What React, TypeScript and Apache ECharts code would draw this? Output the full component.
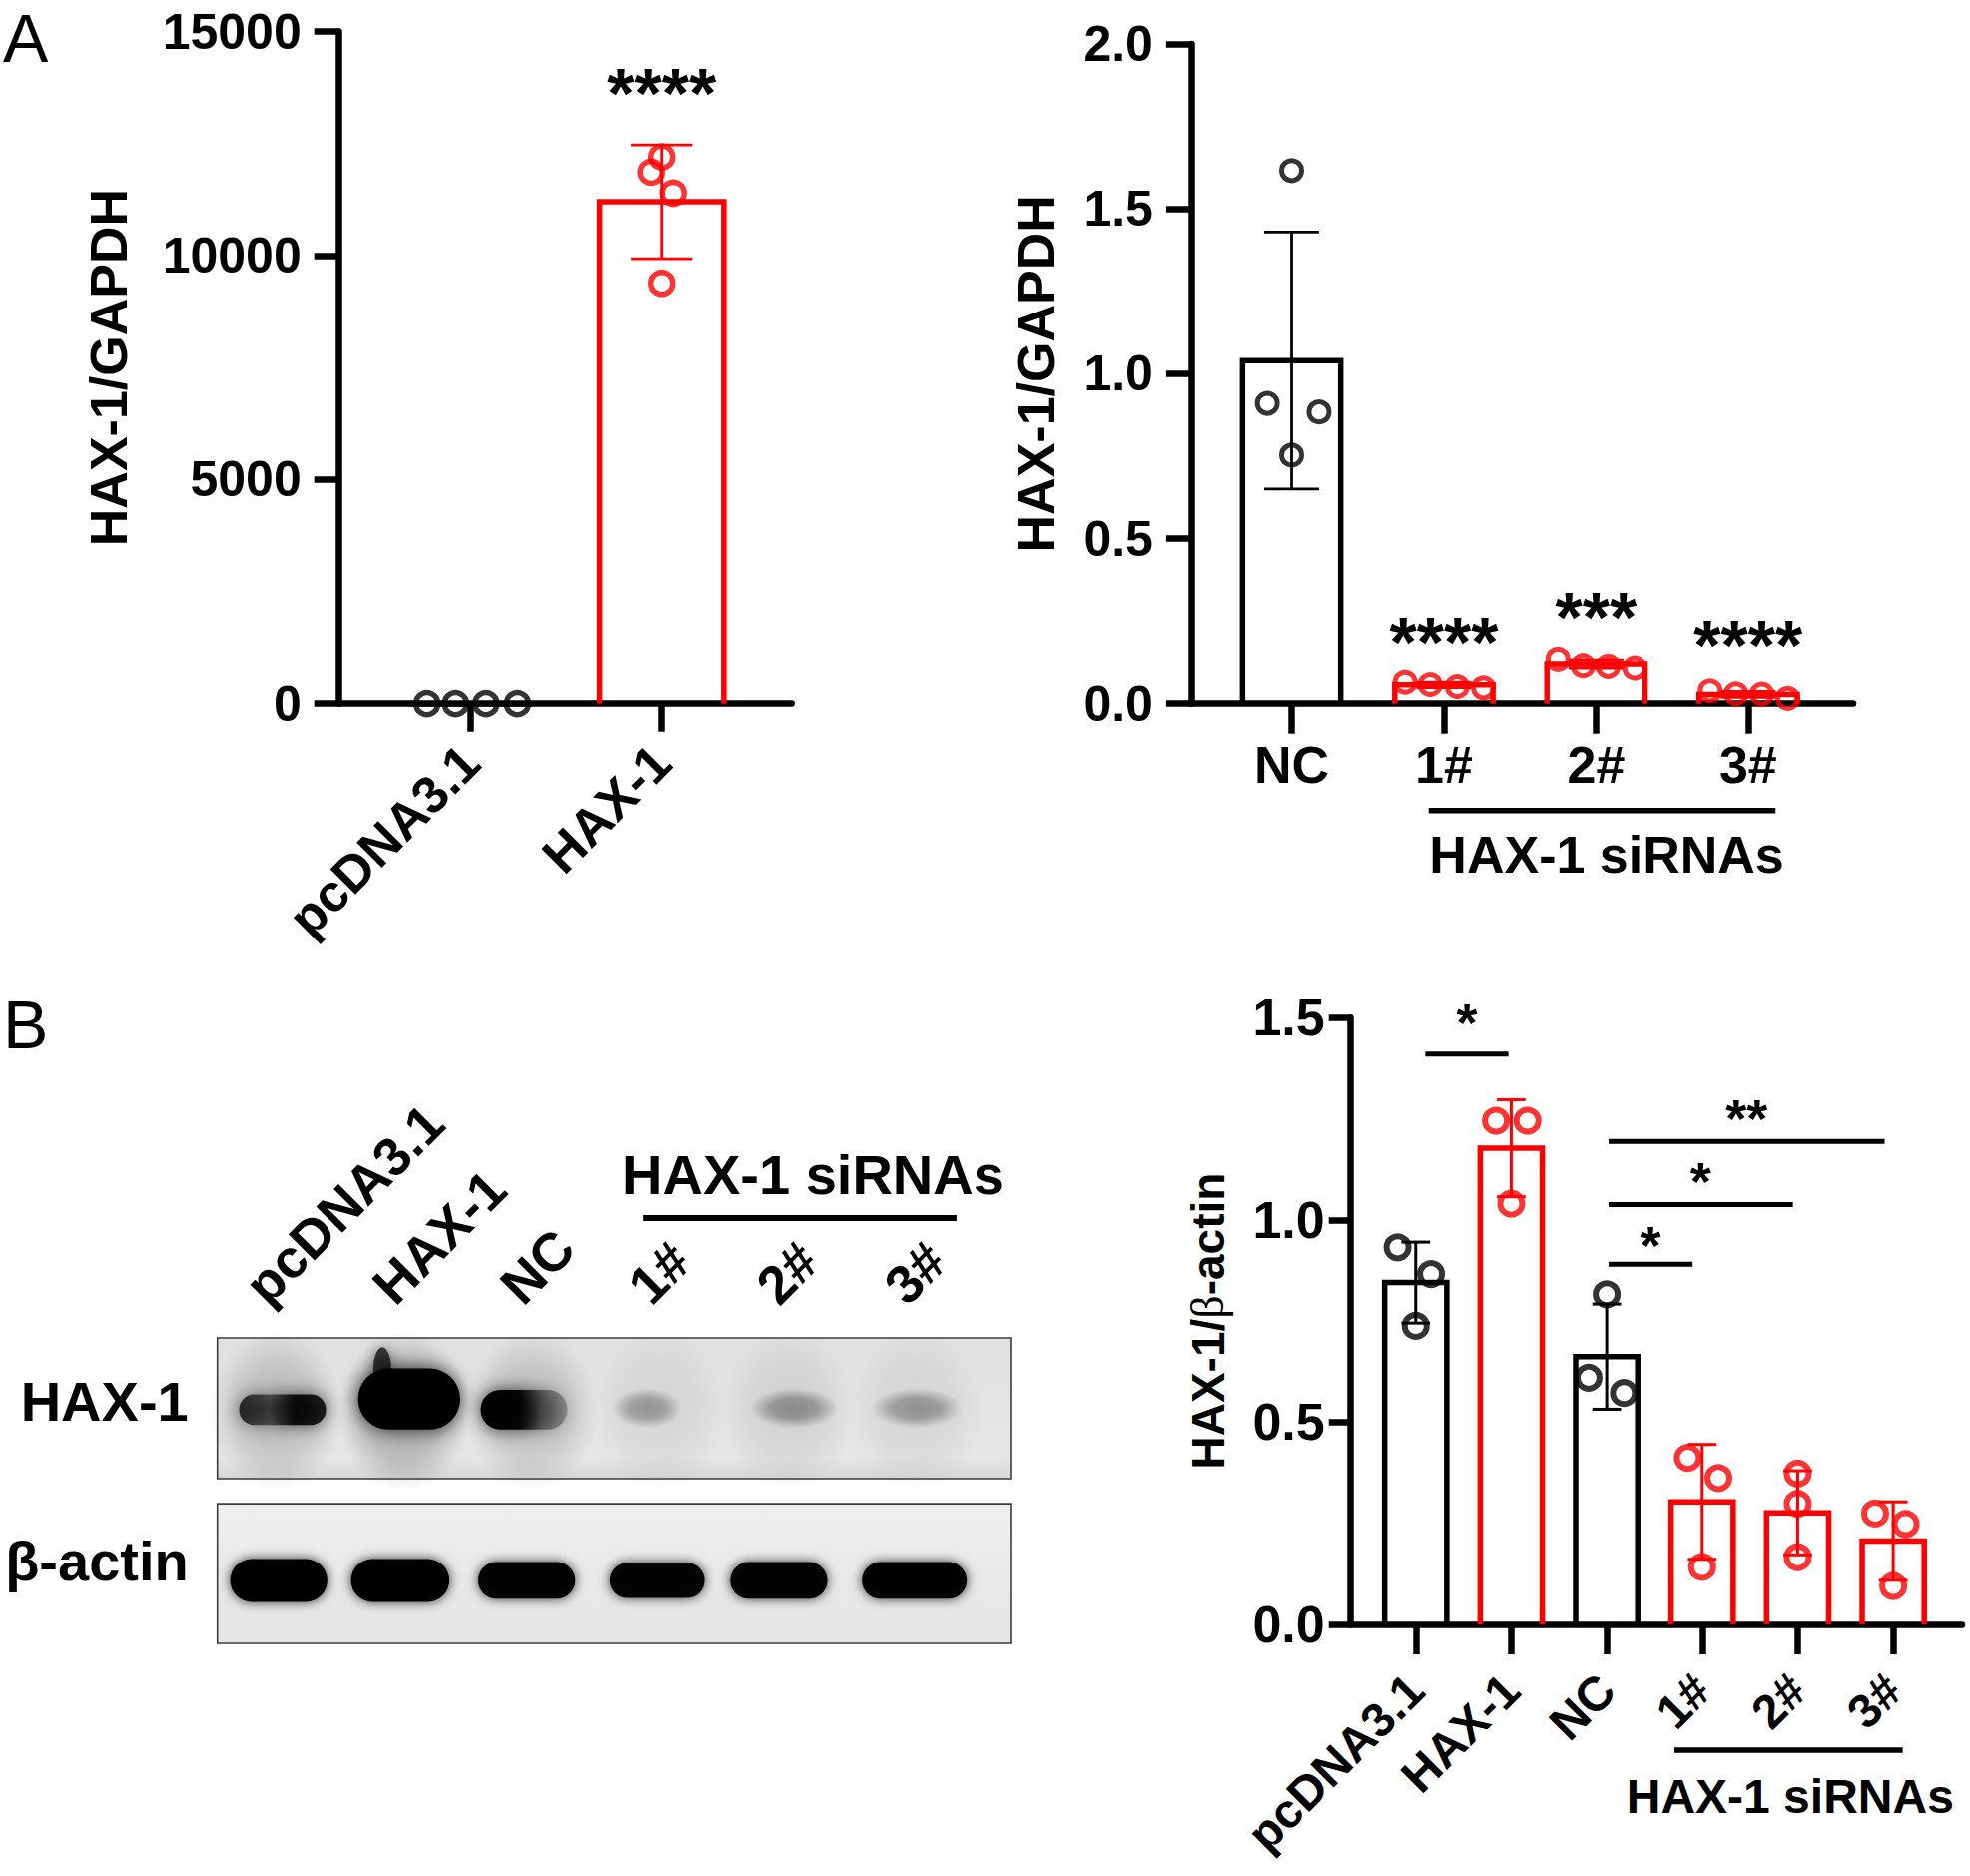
import React, { useEffect, useRef } from 'react';
import * as echarts from 'echarts';

// ================= DATA =================
// Panel A, left chart (qPCR, overexpression)
const a1Categories = ['pcDNA3.1', 'HAX-1'];
const a1YTicks = [0, 5000, 10000, 15000];
const a1Means = [1, 11200];
const a1SD = [20, 1270];
const a1Points = [
  [1, 1, 1, 1],
  [12200, 11860, 11390, 9380],
];
const a1Jitter = [
  [-0.23, -0.08, 0.08, 0.245],
  [0.0, -0.055, 0.06, 0.0],
];
const a1Stars = [{ cat: 1, y: 13770, text: '****' }];

// Panel A, right chart (qPCR, knock-down)
const a2Categories = ['NC', '1#', '2#', '3#'];
const a2YTicks = [0, 0.5, 1.0, 1.5, 2.0];
const a2Means = [1.04, 0.057, 0.12, 0.028];
const a2SD = [0.39, 0.008, 0.012, 0.009];
const a2Points = [
  [1.616, 0.91, 0.884, 0.753],
  [0.065, 0.058, 0.052, 0.048],
  [0.134, 0.115, 0.113, 0.108],
  [0.039, 0.03, 0.029, 0.016],
];
const a2Jitter = [
  [0.0, -0.16, 0.18, 0.0],
  [-0.255, -0.09, 0.088, 0.26],
  [-0.25, -0.085, 0.08, 0.255],
  [-0.25, -0.08, 0.09, 0.26],
];
const a2Stars = [
  { cat: 1, y: 0.206, text: '****' },
  { cat: 2, y: 0.282, text: '***' },
  { cat: 3, y: 0.196, text: '****' },
];
const a2Group = { from: 0.9, to: 3.18, mid: 2.07, text: 'HAX-1 siRNAs' };

// Panel B, chart (western blot quantification)
const bCategories = ['pcDNA3.1', 'HAX-1', 'NC', '1#', '2#', '3#'];
const bYTicks = [0, 0.5, 1.0, 1.5];
const bMeans = [0.845, 1.177, 0.662, 0.303, 0.276, 0.206];
const bSD = [0.1, 0.12, 0.13, 0.142, 0.104, 0.097];
const bPoints = [
  [0.932, 0.866, 0.738],
  [1.245, 1.245, 1.04],
  [0.816, 0.61, 0.572],
  [0.412, 0.362, 0.142],
  [0.373, 0.298, 0.166],
  [0.274, 0.248, 0.095],
];
const bJitter = [
  [-0.19, 0.16, 0],
  [-0.16, 0.17, 0],
  [0, -0.19, 0.18],
  [-0.15, 0.17, 0],
  [0, 0, 0],
  [-0.19, 0.13, 0],
];
const bBrackets = [
  { from: 0.1, to: 0.97, y: 1.41, starY: 1.502, text: '*' },
  { from: 2.02, to: 4.91, y: 1.194, starY: 1.264, text: '**' },
  { from: 2.02, to: 3.95, y: 1.038, starY: 1.11, text: '*' },
  { from: 2.02, to: 2.9, y: 0.89, starY: 0.952, text: '*' },
];
const bGroup = { from: 2.71, to: 5.1, mid: 3.92, text: 'HAX-1 siRNAs' };

// Western blot
const blotLanes = ['pcDNA3.1', 'HAX-1', 'NC', '1#', '2#', '3#'];
const blotRows = ['HAX-1', 'β-actin'];
const blotHax1Intensity = [0.9, 1.0, 1.0, 0.3, 0.34, 0.32];
const blotActinIntensity = [1.0, 1.0, 0.97, 0.96, 0.97, 0.98];
const blotGroup = { from: 2.87, to: 5.32, mid: 4.2, text: 'HAX-1 siRNAs' };

// ================= STYLE =================
const FONT = '"Liberation Sans", Arial, Helvetica, sans-serif';
const RED = '#ff0000';
const BLACK = '#000000';
const AXIS_W = 6.5;
const STAR_DY = 0.1;
const a1Colors = [BLACK, RED];
const a2Colors = [BLACK, RED, RED, RED];
const bColors = [BLACK, RED, BLACK, RED, RED, RED];

const BLOT_X = [-0.46, 5.75];
const BLOT_PANELS = [
  [0, 0.461],
  [0.543, 1],
];
const haxShape = [
  { dx: 0.05, cy: 0.235, w: 0.68, h: 0.1, stops: [[0, 0.85], [0.35, 0.55], [0.65, 1], [1, 0.9]] },
  { dx: 0.04, cy: 0.2, w: 0.8, h: 0.2, stops: [[0, 1], [1, 1]] },
  { dx: -0.06, cy: 0.235, w: 0.68, h: 0.13, stops: [[0, 1], [0.45, 0.95], [0.7, 0.45], [1, 0.25]] },
  { dx: -0.1, cy: 0.23, w: 0.55, h: 0.1, stops: [[0, 1], [1, 1]] },
  { dx: 0.05, cy: 0.23, w: 0.7, h: 0.1, stops: [[0, 1], [1, 1]] },
  { dx: 0.01, cy: 0.23, w: 0.72, h: 0.1, stops: [[0, 1], [1, 1]] },
];
const hazeAlpha = [0.2, 0.3, 0.18, 0.07, 0.09, 0.07];
const actinShape = [
  { dx: 0.02, w: 0.76, h: 0.14 },
  { dx: -0.03, w: 0.77, h: 0.14 },
  { dx: -0.04, w: 0.76, h: 0.12 },
  { dx: -0.02, w: 0.74, h: 0.115 },
  { dx: -0.07, w: 0.76, h: 0.12 },
  { dx: -0.01, w: 0.82, h: 0.12 },
];

// ================= BUILDERS =================
function xAxisCfg(grid: number, cats: string[], min: number, max: number, o: any) {
  const vals = cats.map((_, i) => i);
  return {
    type: 'value',
    gridIndex: grid,
    min,
    max,
    axisLine: { show: true, onZero: false, lineStyle: { color: BLACK, width: AXIS_W } },
    axisTick: { show: true, customValues: vals, length: o.tickLen, lineStyle: { color: BLACK, width: AXIS_W } },
    axisLabel: {
      show: true,
      customValues: vals,
      formatter: (v: number) => cats[Math.round(v)] ?? '',
      rotate: o.rotate,
      margin: o.margin,
      fontSize: o.fontSize,
      fontWeight: 'bold',
      fontFamily: FONT,
      color: BLACK,
    },
    splitLine: { show: false },
  };
}

function yAxisCfg(grid: number, ticks: number[], fmt: (v: number) => string, o: any) {
  return {
    type: 'value',
    gridIndex: grid,
    min: ticks[0],
    max: ticks[ticks.length - 1],
    interval: ticks[1] - ticks[0],
    axisLine: { show: true, onZero: false, lineStyle: { color: BLACK, width: AXIS_W } },
    axisTick: { show: true, length: o.tickLen, lineStyle: { color: BLACK, width: AXIS_W } },
    axisLabel: { formatter: fmt, margin: o.margin, fontSize: o.fontSize, fontWeight: 'bold', fontFamily: FONT, color: BLACK },
    splitLine: { show: false },
    name: o.name,
    nameLocation: 'middle',
    nameGap: o.nameGap,
    nameRotate: 90,
    nameTextStyle: { fontSize: o.nameSize, fontWeight: 'bold', fontFamily: FONT, color: BLACK, rich: o.rich },
  };
}

function barsSeries(grid: number, means: number[], sds: number[], colors: string[], o: any) {
  return {
    type: 'custom',
    xAxisIndex: grid,
    yAxisIndex: grid,
    clip: false,
    silent: true,
    z: 3,
    data: means.map((m, i) => [i, m, sds[i]]),
    renderItem: (params: any, api: any) => {
      const x = api.value(0) as number;
      const m = api.value(1) as number;
      const sd = api.value(2) as number;
      const c = colors[params.dataIndex];
      const l = api.coord([x - o.barWidth / 2, m]);
      const r = api.coord([x + o.barWidth / 2, 0]);
      const top = api.coord([x, m + sd]);
      const bot = api.coord([x, Math.max(0, m - sd)]);
      const cl = api.coord([x - o.cap / 2, 0])[0];
      const cr = api.coord([x + o.cap / 2, 0])[0];
      const es = { stroke: c, lineWidth: o.errLine };
      return {
        type: 'group',
        children: [
          {
            type: 'polyline',
            shape: { points: [[l[0], r[1]], [l[0], l[1]], [r[0], l[1]], [r[0], r[1]]] },
            style: { stroke: c, lineWidth: o.barLine, fill: null, lineJoin: 'miter' },
          },
          { type: 'line', shape: { x1: top[0], y1: top[1], x2: bot[0], y2: bot[1] }, style: es },
          { type: 'line', shape: { x1: cl, y1: top[1], x2: cr, y2: top[1] }, style: es },
          { type: 'line', shape: { x1: cl, y1: bot[1], x2: cr, y2: bot[1] }, style: es },
        ],
      };
    },
  };
}

function pointsSeries(grid: number, pts: number[][], jit: number[][], colors: string[], o: any) {
  const data: any[] = [];
  pts.forEach((arr, i) =>
    arr.forEach((v, j) =>
      data.push({ value: [i + jit[i][j], v], itemStyle: { color: 'rgba(0,0,0,0)', borderColor: colors[i], borderWidth: o.border } })
    )
  );
  return {
    type: 'scatter',
    xAxisIndex: grid,
    yAxisIndex: grid,
    symbol: 'circle',
    symbolSize: o.size,
    silent: true,
    z: 4,
    data,
  };
}

function starsSeries(grid: number, stars: any[], fontSize: number) {
  return {
    type: 'custom',
    xAxisIndex: grid,
    yAxisIndex: grid,
    clip: false,
    silent: true,
    z: 5,
    data: stars.map((s) => [s.cat, s.y]),
    renderItem: (params: any, api: any) => {
      const p = api.coord([api.value(0), api.value(1)]);
      return {
        type: 'text',
        x: p[0],
        y: p[1] + fontSize * STAR_DY,
        style: { text: stars[params.dataIndex].text, fontSize, fontWeight: 'bold', fontFamily: FONT, fill: BLACK, align: 'center', verticalAlign: 'middle' },
      };
    },
  };
}

function bracketsSeries(grid: number, br: any[], fontSize: number, lineWidth: number) {
  return {
    type: 'custom',
    xAxisIndex: grid,
    yAxisIndex: grid,
    clip: false,
    silent: true,
    z: 5,
    data: br.map((b) => [(b.from + b.to) / 2, b.y]),
    renderItem: (params: any, api: any) => {
      const b = br[params.dataIndex];
      const a = api.coord([b.from, b.y]);
      const e = api.coord([b.to, b.y]);
      const s = api.coord([(b.from + b.to) / 2, b.starY]);
      return {
        type: 'group',
        children: [
          { type: 'line', shape: { x1: a[0], y1: a[1], x2: e[0], y2: e[1] }, style: { stroke: BLACK, lineWidth } },
          {
            type: 'text',
            x: s[0],
            y: s[1] + fontSize * STAR_DY,
            style: { text: b.text, fontSize, fontWeight: 'bold', fontFamily: FONT, fill: BLACK, align: 'center', verticalAlign: 'middle' },
          },
        ],
      };
    },
  };
}

function groupSeries(grid: number, g: any, o: any) {
  return {
    type: 'custom',
    xAxisIndex: grid,
    yAxisIndex: grid,
    clip: false,
    silent: true,
    z: 5,
    data: [[g.mid, 0]],
    renderItem: (_p: any, api: any) => {
      const a = api.coord([g.from, 0]);
      const b = api.coord([g.to, 0]);
      const m = api.coord([g.mid, 0]);
      return {
        type: 'group',
        children: [
          { type: 'line', shape: { x1: a[0], y1: a[1] + o.lineDy, x2: b[0], y2: b[1] + o.lineDy }, style: { stroke: BLACK, lineWidth: o.lineWidth } },
          {
            type: 'text',
            x: m[0],
            y: m[1] + o.textDy,
            style: { text: g.text, fontSize: o.fontSize, fontWeight: 'bold', fontFamily: FONT, fill: BLACK, align: 'center', verticalAlign: 'middle' },
          },
        ],
      };
    },
  };
}

function alphaStops(stops: number[][], k: number) {
  return stops.map(([o, a]) => ({ offset: o, color: `rgba(0,0,0,${Math.min(1, a * k)})` }));
}

function blotSeries(grid: number) {
  return {
    type: 'custom',
    xAxisIndex: grid,
    yAxisIndex: grid,
    clip: false,
    silent: true,
    z: 2,
    data: blotLanes.map((_, i) => [i, 0.5]),
    renderItem: (params: any, api: any) => {
      const i = params.dataIndex;
      const lane = api.value(0) as number;
      const sz = api.size([1, 1]);
      const ux = sz[0];
      const uy = sz[1];
      const children: any[] = [];
      if (i === 0) {
        BLOT_PANELS.forEach(([y0, y1], k) => {
          const p0 = api.coord([BLOT_X[0], y0]);
          const p1 = api.coord([BLOT_X[1], y1]);
          children.push({
            type: 'rect',
            shape: { x: p0[0], y: p0[1], width: p1[0] - p0[0], height: p1[1] - p0[1] },
            style: {
              fill: {
                type: 'linear', x: 0, y: 0, x2: 0, y2: 1,
                colorStops: k === 0
                  ? [{ offset: 0, color: '#e0e0e0' }, { offset: 0.85, color: '#e6e6e6' }, { offset: 1, color: '#d6d6d6' }]
                  : [{ offset: 0, color: '#efefef' }, { offset: 1, color: '#e4e4e4' }],
              },
              stroke: '#3c3c3c',
              lineWidth: 1.6,
            },
          });
          const rc = api.coord([BLOT_X[0], k === 0 ? 0.206 : 0.732]);
          children.push({
            type: 'text',
            x: rc[0] - 29,
            y: rc[1],
            style: { text: blotRows[k], fontSize: 56, fontWeight: 'bold', fontFamily: FONT, fill: BLACK, align: 'right', verticalAlign: 'middle' },
          });
        });
        const ga = api.coord([blotGroup.from, 0]);
        const gb = api.coord([blotGroup.to, 0]);
        const gm = api.coord([blotGroup.mid, 0]);
        children.push({ type: 'line', shape: { x1: ga[0], y1: ga[1] - 120, x2: gb[0], y2: gb[1] - 120 }, style: { stroke: BLACK, lineWidth: 6 } });
        children.push({
          type: 'text',
          x: gm[0],
          y: gm[1] - 164,
          style: { text: blotGroup.text, fontSize: 56, fontWeight: 'bold', fontFamily: FONT, fill: BLACK, align: 'center', verticalAlign: 'middle' },
        });
      }
      // lane label
      const lp = api.coord([lane, 0]);
      children.push({
        type: 'text',
        x: lp[0] - 22,
        y: lp[1] - 44,
        rotation: Math.PI / 4,
        style: { text: blotLanes[i], fontSize: 54, fontWeight: 'bold', fontFamily: FONT, fill: BLACK, align: 'left', verticalAlign: 'middle' },
      });
      // haze in HAX-1 row
      const hz = api.coord([lane, 0.24]);
      children.push({
        type: 'ellipse',
        shape: { cx: hz[0], cy: hz[1], rx: ux * 0.52, ry: uy * 0.26 },
        style: {
          fill: { type: 'radial', x: 0.5, y: 0.5, r: 0.5, colorStops: [
            { offset: 0, color: `rgba(0,0,0,${hazeAlpha[i]})` },
            { offset: 0.6, color: `rgba(0,0,0,${hazeAlpha[i] * 0.6})` },
            { offset: 1, color: 'rgba(0,0,0,0)' },
          ] },
        },
      });
      // HAX-1 band
      const hs = haxShape[i];
      const k = blotHax1Intensity[i];
      const bc = api.coord([lane + hs.dx, hs.cy]);
      const bw = hs.w * ux;
      const bh = hs.h * uy;
      if (i === 1) {
        const sm = api.coord([lane - 0.17, 0.1]);
        children.push({ type: 'ellipse', shape: { cx: sm[0], cy: sm[1], rx: ux * 0.07, ry: uy * 0.07 }, style: { fill: 'rgba(0,0,0,0.7)', shadowBlur: 14, shadowColor: 'rgba(0,0,0,0.6)' } });
      }
      if (k > 0.5) {
        children.push({
          type: 'rect',
          shape: { x: bc[0] - bw / 2, y: bc[1] - bh / 2, width: bw, height: bh, r: bh * 0.5 },
          style: {
            fill: { type: 'linear', x: 0, y: 0, x2: 1, y2: 0, colorStops: alphaStops(hs.stops, k) },
            shadowBlur: 18,
            shadowColor: 'rgba(0,0,0,0.75)',
          },
        });
      } else {
        children.push({
          type: 'ellipse',
          shape: { cx: bc[0], cy: bc[1], rx: bw / 2, ry: bh / 2 * 1.3 },
          style: {
            fill: { type: 'radial', x: 0.5, y: 0.5, r: 0.5, colorStops: [
              { offset: 0, color: `rgba(0,0,0,${k})` },
              { offset: 0.5, color: `rgba(0,0,0,${k * 0.85})` },
              { offset: 1, color: 'rgba(0,0,0,0)' },
            ] },
          },
        });
      }
      // beta-actin band
      const as = actinShape[i];
      const ka = blotActinIntensity[i];
      const ac = api.coord([lane + as.dx, 0.794]);
      const aw = as.w * ux;
      const ah = as.h * uy;
      children.push({
        type: 'rect',
        shape: { x: ac[0] - aw / 2, y: ac[1] - ah / 2, width: aw, height: ah, r: ah * 0.5 },
        style: { fill: `rgba(0,0,0,${ka})`, shadowBlur: 12, shadowColor: 'rgba(0,0,0,0.8)' },
      });
      return { type: 'group', children };
    },
  };
}

// ================= COMPONENT =================
export default function App() {
  const ref = useRef<HTMLDivElement>(null);
  useEffect(() => {
    document.body.style.margin = '0';
    if (!ref.current) return;
    const chart = echarts.init(ref.current, undefined, { renderer: 'svg' });
    const fmt1 = (v: number) => String(Math.round(v));
    const fmtD = (v: number) => v.toFixed(1);
    const option: any = {
      animation: false,
      backgroundColor: '#ffffff',
      grid: [
        { left: 339.7, top: 31.5, width: 453, height: 673.2, outerBoundsMode: 'none', containLabel: false },
        { left: 1192.9, top: 44, width: 663.1, height: 660.7, outerBoundsMode: 'none', containLabel: false },
        { left: 1352.7, top: 1019.2, width: 612.3, height: 607.8, outerBoundsMode: 'none', containLabel: false },
        { left: 217.7, top: 1340, width: 795.3, height: 306, outerBoundsMode: 'none', containLabel: false },
      ],
      xAxis: [
        xAxisCfg(0, a1Categories, -0.69, 1.68, { tickLen: 28, rotate: 45, margin: 50, fontSize: 52 }),
        xAxisCfg(1, a2Categories, -0.66, 3.69, { tickLen: 30, rotate: 0, margin: 35, fontSize: 52 }),
        xAxisCfg(2, bCategories, -0.68, 5.72, { tickLen: 30, rotate: 45, margin: 58, fontSize: 48 }),
        { type: 'value', gridIndex: 3, min: BLOT_X[0], max: BLOT_X[1], show: false },
      ],
      yAxis: [
        yAxisCfg(0, a1YTicks, fmt1, { tickLen: 25, margin: 38, fontSize: 50, name: 'HAX-1/GAPDH', nameGap: 205, nameSize: 52 }),
        yAxisCfg(1, a2YTicks, fmtD, { tickLen: 25, margin: 38, fontSize: 50, name: 'HAX-1/GAPDH', nameGap: 129, nameSize: 52 }),
        yAxisCfg(2, bYTicks, fmtD, {
          tickLen: 22, margin: 26, fontSize: 52, name: 'HAX-1/{g|β}-actin', nameGap: 120, nameSize: 46,
          rich: { g: { fontSize: 46, fontWeight: 'normal', fontFamily: '"Liberation Serif", "DejaVu Serif", serif', color: BLACK } },
        }),
        { type: 'value', gridIndex: 3, min: 0, max: 1, inverse: true, show: false },
      ],
      graphic: [
        { type: 'text', left: 3, top: 4, style: { text: 'A', fontSize: 68, fontFamily: FONT, fill: BLACK } },
        { type: 'text', left: 3, top: 992, style: { text: 'B', fontSize: 68, fontFamily: FONT, fill: BLACK } },
      ],
      series: [
        barsSeries(0, a1Means, a1SD, a1Colors, { barWidth: 0.65, cap: 0.32, barLine: 5.5, errLine: 2.8 }),
        pointsSeries(0, a1Points, a1Jitter, a1Colors, { size: 22, border: 5.5 }),
        starsSeries(0, a1Stars, 70),

        barsSeries(1, a2Means, a2SD, a2Colors, { barWidth: 0.645, cap: 0.36, barLine: 5.5, errLine: 2.8 }),
        pointsSeries(1, a2Points, a2Jitter, a2Colors, { size: 20, border: 5 }),
        starsSeries(1, a2Stars, 70),
        groupSeries(1, a2Group, { lineDy: 107, textDy: 151, lineWidth: 5.5, fontSize: 52 }),

        barsSeries(2, bMeans, bSD, bColors, { barWidth: 0.65, cap: 0.3, barLine: 5.5, errLine: 3 }),
        pointsSeries(2, bPoints, bJitter, bColors, { size: 22, border: 6 }),
        bracketsSeries(2, bBrackets, 54, 5),
        groupSeries(2, bGroup, { lineDy: 126, textDy: 172, lineWidth: 5.5, fontSize: 48 }),

        blotSeries(3),
      ],
    };
    chart.setOption(option);
    return () => chart.dispose();
  }, []);
  return <div ref={ref} style={{ width: 1973, height: 1879, background: '#fff' }} />;
}
